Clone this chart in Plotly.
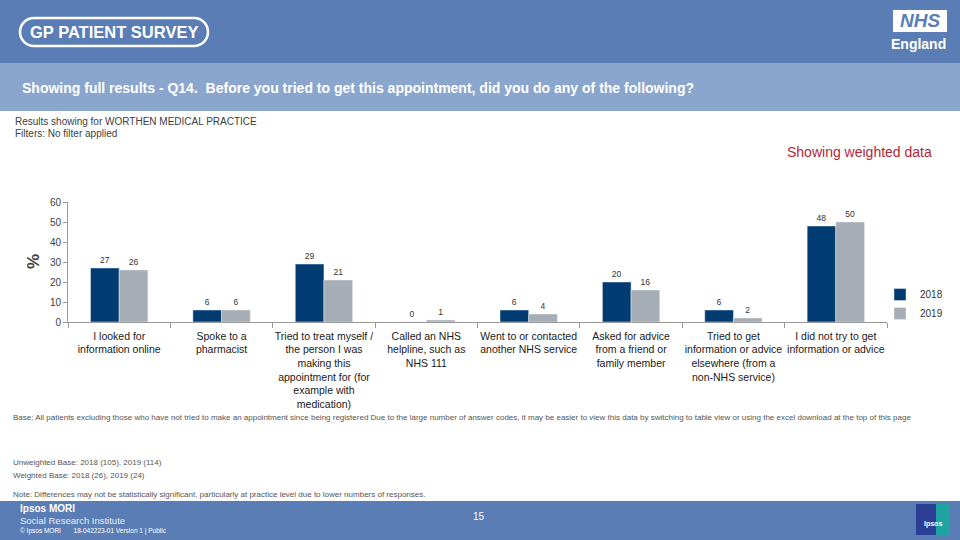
import plotly.graph_objects as go

# ---------------- data ----------------
categories = [
    "I looked for<br>information online",
    "Spoke to a<br>pharmacist",
    "Tried to treat myself /<br>the person I was<br>making this<br>appointment for (for<br>example with<br>medication)",
    "Called an NHS<br>helpline, such as<br>NHS 111",
    "Went to or contacted<br>another NHS service",
    "Asked for advice<br>from a friend or<br>family member",
    "Tried to get<br>information or advice<br>elsewhere (from a<br>non-NHS service)",
    "I did not try to get<br>information or advice",
]
values_2018 = [27, 6, 29, 0, 6, 20, 6, 48]
values_2019 = [26, 6, 21, 1, 4, 16, 2, 50]
series_names = ["2018", "2019"]
y_ticks = [0, 10, 20, 30, 40, 50, 60]

W, H = 960, 540
FONT = "Arial, Liberation Sans, sans-serif"
HEADER = "#5a7db5"
BAND = "#8ba6cd"
NAVY = "#003b71"
GREY = "#a6adb5"


def X(px):
    return px / W


def Y(py):
    return 1 - py / H


fig = go.Figure()
fig.add_trace(go.Bar(
    x=categories, y=values_2018, name=series_names[0], marker_color=NAVY,
    text=values_2018, textposition="outside", cliponaxis=False,
    textfont=dict(size=8.5, color="#333333", family=FONT),
))
fig.add_trace(go.Bar(
    x=categories, y=values_2019, name=series_names[1], marker_color=GREY,
    text=values_2019, textposition="outside", cliponaxis=False,
    textfont=dict(size=8.5, color="#333333", family=FONT),
))

shapes = []
# header band
shapes.append(dict(type="rect", xref="paper", yref="paper", x0=0, x1=1,
                   y0=Y(63), y1=1, fillcolor=HEADER, line_width=0, layer="below"))
# question band
shapes.append(dict(type="rect", xref="paper", yref="paper", x0=0, x1=1,
                   y0=Y(111), y1=Y(63), fillcolor=BAND, line_width=0, layer="below"))
# footer band
shapes.append(dict(type="rect", xref="paper", yref="paper", x0=0, x1=1,
                   y0=0, y1=Y(501), fillcolor=HEADER, line_width=0, layer="below"))

# GP PATIENT SURVEY rounded outline (stadium)
x0, x1, yt, yb, r = 20, 208, 18, 46, 14
k = 0.5523 * r
path = (
    f"M {X(x0 + r)},{Y(yt)} L {X(x1 - r)},{Y(yt)} "
    f"C {X(x1 - r + k)},{Y(yt)} {X(x1)},{Y(yt + r - k)} {X(x1)},{Y(yt + r)} "
    f"C {X(x1)},{Y(yt + r + k)} {X(x1 - r + k)},{Y(yb)} {X(x1 - r)},{Y(yb)} "
    f"L {X(x0 + r)},{Y(yb)} "
    f"C {X(x0 + r - k)},{Y(yb)} {X(x0)},{Y(yb - r + k)} {X(x0)},{Y(yb - r)} "
    f"C {X(x0)},{Y(yb - r - k)} {X(x0 + r - k)},{Y(yt)} {X(x0 + r)},{Y(yt)} Z"
)
shapes.append(dict(type="path", xref="paper", yref="paper", path=path,
                   line=dict(color="white", width=2.5), fillcolor="rgba(0,0,0,0)"))

# NHS logo box
shapes.append(dict(type="rect", xref="paper", yref="paper", x0=X(893), x1=X(947),
                   y0=Y(32), y1=Y(10), fillcolor="white", line_width=0))
# Ipsos logo
shapes.append(dict(type="rect", xref="paper", yref="paper", x0=X(916), x1=X(936),
                   y0=Y(535), y1=Y(504), fillcolor="#2c3f94", line_width=0))
shapes.append(dict(type="rect", xref="paper", yref="paper", x0=X(936), x1=X(950),
                   y0=Y(535), y1=Y(504), fillcolor="#1fa3a0", line_width=0))

ann = []


def text(x, y, s, size, color="#333333", xanchor="left", bold=False, italic=False, angle=0):
    if bold:
        s = f"<b>{s}</b>"
    if italic:
        s = f"<i>{s}</i>"
    ann.append(dict(x=X(x), y=Y(y), xref="paper", yref="paper", text=s, showarrow=False,
                    xanchor=xanchor, yanchor="middle", textangle=angle,
                    font=dict(size=size, color=color, family=FONT)))


text(114, 32, "GP PATIENT SURVEY", 16.5, "white", "center", bold=True)
text(920, 21, "NHS", 19, HEADER, "center", bold=True, italic=True)
text(948, 44, "England", 14, "white", "right", bold=True)
text(20, 88, "Showing full results - Q14.  Before you tried to get this appointment, did you do any of the following?", 14, "white", bold=True)
text(13, 121, "Results showing for WORTHEN MEDICAL PRACTICE", 10, "#404040")
text(13, 134, "Filters: No filter applied", 10, "#404040")
text(934, 152, "Showing weighted data", 14, "#b3263a", "right")
text(33, 262, "%", 17, "#404040", "center", bold=True, angle=-90)
text(11, 417, "Base: All patients excluding those who have not tried to make an appointment since being registered Due to the large number of answer codes, it may be easier to view this data by switching to table view or using the excel download at the top of this page", 8, "#555555")
text(11, 462, "Unweighted Base: 2018 (105), 2019 (114)", 8, "#555555")
text(11, 475, "Weighted Base: 2018 (26), 2019 (24)", 8, "#555555")
text(11, 494, "Note: Differences may not be statistically significant, particularly at practice level due to lower numbers of responses.", 8, "#555555")
text(18, 508, "Ipsos MORI", 10, "white", bold=True)
text(18, 520, "Social Research Institute", 9.5, "#e6ecf5")
text(18, 531, "© Ipsos MORI       18-042223-01 Version 1 | Public", 6.5, "white")
text(479, 516, "15", 10, "white", "center")
text(933, 524, "Ipsos", 7, "white", "center", bold=True)

fig.update_layout(
    width=W, height=H,
    margin=dict(l=0, r=0, t=0, b=0),
    paper_bgcolor="white", plot_bgcolor="white",
    font=dict(family=FONT, color="#222222"),
    barmode="group", bargap=0.44, bargroupgap=0.0,
    shapes=shapes, annotations=ann,
    showlegend=True,
    legend=dict(x=X(880), y=Y(280), xanchor="left", yanchor="top",
                font=dict(size=10, color="#333333", family=FONT),
                bgcolor="rgba(0,0,0,0)", itemwidth=30, tracegroupgap=2),
    xaxis=dict(domain=[X(68), X(887)], type="category", tickson="boundaries",
               ticks="outside", ticklen=5, tickcolor="#999999",
               showline=True, linecolor="#999999", linewidth=1,
               tickfont=dict(size=10.5, color="#1a1a1a", family=FONT),
               ticklabelstandoff=4,
               tickangle=0, automargin=False, showgrid=False),
    yaxis=dict(domain=[Y(322), Y(202)], range=[0, 60], tickvals=y_ticks,
               ticks="outside", ticklen=4, tickcolor="#999999",
               showline=True, linecolor="#999999", linewidth=1,
               tickfont=dict(size=10, color="#404040", family=FONT),
               showgrid=False, zeroline=False, automargin=False),
)

fig.write_html(
    "out.html",
    config={"displayModeBar": False},
    post_script="document.body.style.margin='0';document.body.style.padding='0';",
)
